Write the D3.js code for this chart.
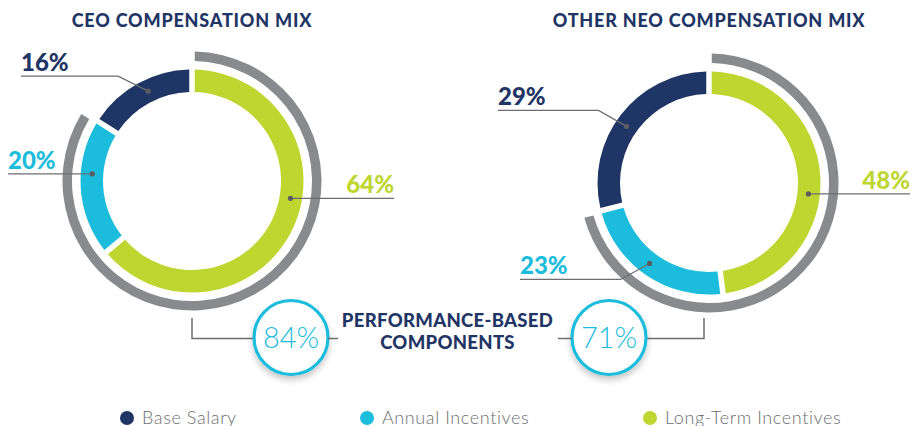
<!DOCTYPE html>
<html>
<head>
<meta charset="utf-8">
<script src="https://cdn.jsdelivr.net/npm/d3@7"></script>
<style>
  body { margin: 0; background: #fff; }
  svg { display: block; }
  text { font-family: Lato, "Open Sans", sans-serif; }
</style>
</head>
<body>
<svg id="chart" width="912" height="426"></svg>
<script>
// Compensation mix data
const categories = ["Base Salary", "Annual Incentives", "Long-Term Incentives"];
const ceoMix = [16, 20, 64];
const neoMix = [29, 23, 48];
const performanceShare = [84, 71];
const chartTitles = ["CEO COMPENSATION MIX", "OTHER NEO COMPENSATION MIX"];
const centerLabel = ["PERFORMANCE-BASED", "COMPONENTS"];

const colors = ["#1f3566", "#1cbcdc", "#bed630"];
const ringColor = "#898a8e";
const lineColor = "#6d6e71";

const svg = d3.select("#chart");
const TAU = 2 * Math.PI;

// drop shadow for the performance badges
const defs = svg.append("defs");
const f = defs.append("filter").attr("id", "shadow")
  .attr("x", "-30%").attr("y", "-30%").attr("width", "160%").attr("height", "170%");
f.append("feDropShadow").attr("dx", 0).attr("dy", 4).attr("stdDeviation", 3)
  .attr("flood-color", "#000").attr("flood-opacity", 0.22);

// layout of each donut and its callouts
const layouts = [
  {
    mix: ceoMix, perf: performanceShare[0], title: chartTitles[0],
    cx: 192, cy: 181, badgeDx: 99, connectorDx: 0,
    leaders: [
      { t: 0.548, side: "left", reach: 171, elbow: [-30, -15] },
      { t: 0.607, side: "left", reach: 184, elbow: null },
      { t: 0.434, side: "right", reach: 202, elbow: null }
    ]
  },
  {
    mix: neoMix, perf: performanceShare[1], title: chartTitles[1],
    cx: 709, cy: 183, badgeDx: -100, connectorDx: -5,
    leaders: [
      { t: 0.468, side: "left", reach: 211, elbow: [-28, -16] },
      { t: 0.527, side: "left", reach: 189, elbow: [-29, 16] },
      { t: 0.557, side: "right", reach: 201, elbow: null }
    ]
  }
];

const inner = 89, outer = 111.5, ringInner = 120, ringOuter = 129.5, midR = 100;
const padR = 100, padA = 0.055;

const sliceArc = d3.arc().innerRadius(inner).outerRadius(outer)
  .padRadius(padR).padAngle(padA);
const ringArc = d3.arc().innerRadius(ringInner).outerRadius(ringOuter)
  .padRadius(padR).padAngle(padA);

// slices run clockwise from twelve o'clock: long-term, annual, base
const order = [2, 1, 0];
const pie = d3.pie().sort(null);

layouts.forEach(L => {
  const g = svg.append("g").attr("transform", `translate(${L.cx},${L.cy})`);

  svg.append("text")
    .attr("x", L.cx).attr("y", 27)
    .attr("text-anchor", "middle")
    .attr("font-size", 18).attr("font-weight", 900)
    .attr("letter-spacing", 0.8)
    .attr("fill", colors[0])
    .text(L.title);

  const arcs = pie.value(i => L.mix[i])(order);

  // performance-based outer ring
  g.append("path")
    .attr("d", ringArc({ startAngle: 0, endAngle: L.perf / 100 * TAU }))
    .attr("fill", ringColor);

  g.selectAll("path.slice").data(arcs).join("path")
    .attr("class", "slice")
    .attr("d", sliceArc)
    .attr("fill", d => colors[d.data]);

  // callout leaders
  arcs.forEach(a => {
    const i = a.data;
    const spec = L.leaders[i];
    const ang = a.startAngle + spec.t * (a.endAngle - a.startAngle);
    const px = L.cx + midR * Math.sin(ang);
    const py = L.cy - midR * Math.cos(ang);
    let pts, lx, ly, anchor;
    if (spec.side === "left") {
      const ex = spec.elbow ? px + spec.elbow[0] : px;
      const ey = spec.elbow ? py + spec.elbow[1] : py;
      lx = L.cx - spec.reach; ly = ey;
      pts = [[lx, ey], [ex, ey], [px, py]];
      anchor = "start";
    } else {
      lx = L.cx + spec.reach; ly = py;
      pts = [[px, py], [lx, py]];
      anchor = "end";
    }
    svg.append("path")
      .attr("d", d3.line()(pts))
      .attr("fill", "none").attr("stroke", lineColor).attr("stroke-width", 1.3);
    svg.append("circle").attr("cx", px).attr("cy", py).attr("r", 2.6).attr("fill", "#5b5c60");
    svg.append("text")
      .attr("x", lx).attr("y", ly - 5)
      .attr("text-anchor", anchor)
      .attr("font-size", 24).attr("font-weight", 900)
      .attr("fill", colors[i])
      .text(L.mix[i] + "%");
  });

  // connector from the ring down to the badge
  const bx = L.cx + L.badgeDx, by = 337.5, br = 37;
  const kx = L.cx + L.connectorDx;
  const edgeX = L.badgeDx > 0 ? bx - br : bx + br;
  svg.append("path")
    .attr("d", d3.line()([[kx, 318], [kx, by + 1], [edgeX, by + 1]]))
    .attr("fill", "none").attr("stroke", lineColor).attr("stroke-width", 1.5);

  svg.append("circle")
    .attr("cx", bx).attr("cy", by).attr("r", br)
    .attr("fill", "#fff").attr("stroke", colors[1]).attr("stroke-width", 3.2)
    .attr("filter", "url(#shadow)");
  svg.append("text")
    .attr("x", bx).attr("y", by + 10)
    .attr("text-anchor", "middle")
    .attr("font-size", 29).attr("font-weight", 300)
    .attr("fill", colors[1])
    .text(L.perf + "%");
});

// short ticks joining the badges to the centre caption
svg.append("path").attr("d", d3.line()([[328, 338.5], [338, 338.5]]))
  .attr("stroke", lineColor).attr("stroke-width", 1.5);
svg.append("path").attr("d", d3.line()([[558, 338.5], [572, 338.5]]))
  .attr("stroke", lineColor).attr("stroke-width", 1.5);

svg.selectAll("text.caption").data(centerLabel).join("text")
  .attr("class", "caption")
  .attr("x", 447.5).attr("y", (d, i) => 327 + i * 22)
  .attr("text-anchor", "middle").attr("font-size", 18.5).attr("font-weight", 900)
  .attr("letter-spacing", 0.3)
  .attr("fill", colors[0]).text(d => d);

// legend
const legendX = [127, 367, 650];
const legend = svg.selectAll("g.legend").data(categories).join("g")
  .attr("class", "legend")
  .attr("transform", (d, i) => `translate(${legendX[i]},418)`);
legend.append("circle").attr("r", 7).attr("fill", (d, i) => colors[i]);
legend.append("text").attr("x", 15).attr("y", 6)
  .attr("font-size", 18).attr("font-weight", 300)
  .attr("letter-spacing", 0.6)
  .attr("fill", lineColor).text(d => d);
</script>
</body>
</html>
